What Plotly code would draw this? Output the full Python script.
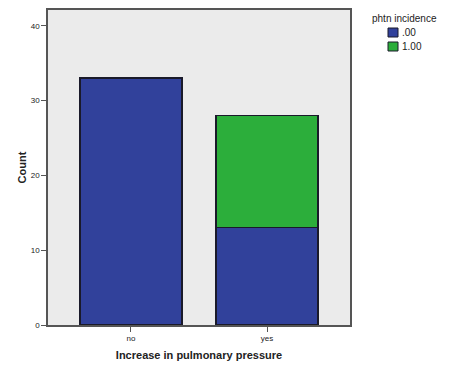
import plotly.graph_objects as go

categories = ["no", "yes"]
vals_00 = [33, 13]
vals_100 = [0, 15]
series_names = [".00", "1.00"]
series_colors = ["#31419B", "#2CAE3B"]
legend_title = "phtn incidence"

# the page body has an 8px margin, so the figure is drawn 8px smaller/shifted
OFF = 8
L, R, T, B = 48 - OFF, 118, 10 - OFF, 49
W, H = 468 - OFF, 374 - OFF
pw, ph = W - L - R, H - T - B

def px(x):
    return (x - OFF - L) / pw

def py(y):
    return (H - B - (y - OFF)) / ph

fig = go.Figure()
for vals, name, col in zip([vals_00, vals_100], series_names, series_colors):
    fig.add_trace(go.Bar(x=categories, y=vals, name=name,
                         marker=dict(color=col, line=dict(color="#1a1a2a", width=1.2)),
                         width=0.75, showlegend=False))

# manual legend
annotations = [dict(text=legend_title, x=px(404), y=py(18), xref="paper", yref="paper",
                    showarrow=False, xanchor="center", yanchor="middle",
                    font=dict(size=10, color="#222"))]
shapes = []
for i, (name, col) in enumerate(zip(series_names, series_colors)):
    y0 = 28 + i * 14
    shapes.append(dict(type="rect", xref="paper", yref="paper",
                       x0=px(388), x1=px(398), y0=py(y0 + 9), y1=py(y0),
                       fillcolor=col, line=dict(color="#1a1a2a", width=1)))
    annotations.append(dict(text=name, x=px(400), y=py(y0 + 4.5), xref="paper", yref="paper",
                            showarrow=False, xanchor="left", yanchor="middle",
                            font=dict(size=10, color="#222")))

fig.update_layout(
    barmode="stack",
    width=W, height=H,
    margin=dict(l=L, r=R, t=T, b=B, autoexpand=False),
    paper_bgcolor="white",
    plot_bgcolor="#EBEBEB",
    font=dict(family="Arial, Liberation Sans", color="#222"),
    showlegend=False,
    annotations=annotations,
    shapes=shapes,
    xaxis=dict(range=[-0.61, 1.61], showline=True, linecolor="#555", linewidth=1.5,
               mirror=True, ticks="outside", ticklen=5, tickcolor="#555",
               tickfont=dict(size=8), showgrid=False, automargin=False,
               title=dict(text="<b>Increase in pulmonary pressure</b>", font=dict(size=11), standoff=9)),
    yaxis=dict(range=[0, 42.1], showline=True, linecolor="#555", linewidth=1.5,
               mirror=True, ticks="outside", ticklen=5, tickcolor="#555",
               tickfont=dict(size=8), tickvals=[0, 10, 20, 30, 40], showgrid=False, zeroline=False,
               automargin=False,
               title=dict(text="<b>Count</b>", font=dict(size=11), standoff=2)),
)
fig.write_html("out.html")
